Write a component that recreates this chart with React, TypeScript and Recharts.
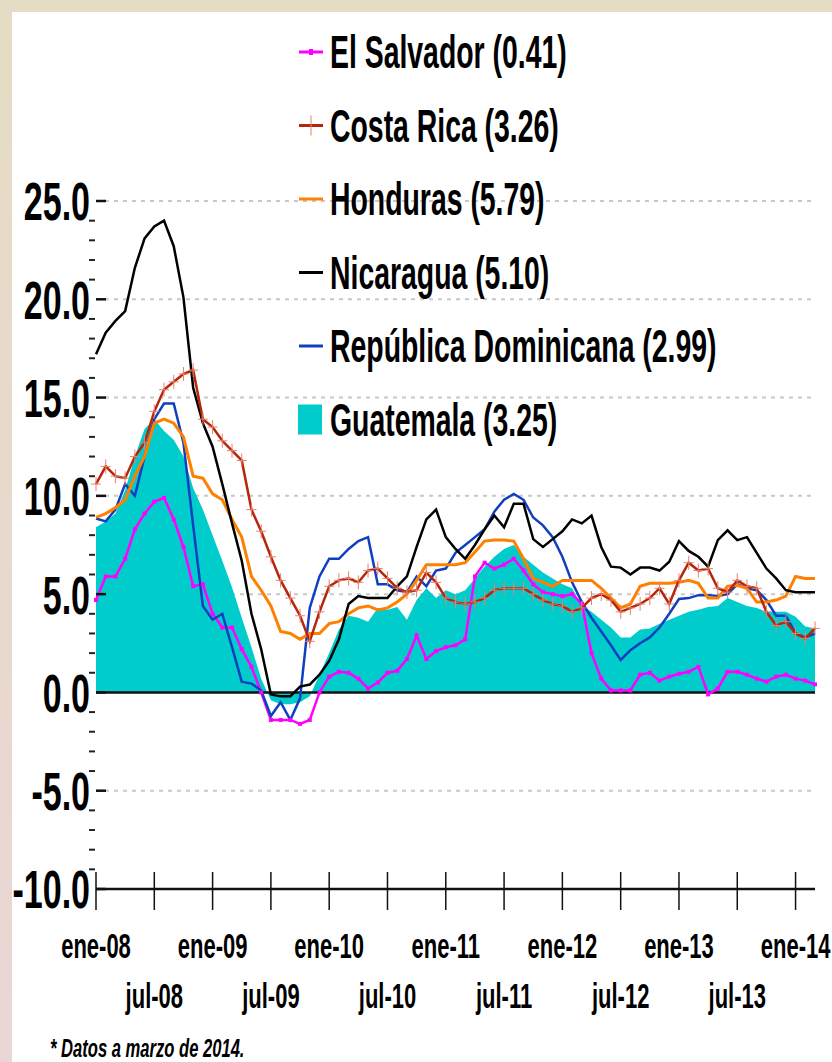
import {
  ComposedChart,
  Area,
  Line,
  XAxis,
  YAxis,
  CartesianGrid,
  ReferenceLine,
} from "recharts";

// monthly, ene-08 .. mar-14
const months = [
  "ene-08", "feb-08", "mar-08", "abr-08", "may-08", "jun-08", "jul-08", "ago-08", "sep-08", "oct-08", "nov-08", "dic-08",
  "ene-09", "feb-09", "mar-09", "abr-09", "may-09", "jun-09", "jul-09", "ago-09", "sep-09", "oct-09", "nov-09", "dic-09",
  "ene-10", "feb-10", "mar-10", "abr-10", "may-10", "jun-10", "jul-10", "ago-10", "sep-10", "oct-10", "nov-10", "dic-10",
  "ene-11", "feb-11", "mar-11", "abr-11", "may-11", "jun-11", "jul-11", "ago-11", "sep-11", "oct-11", "nov-11", "dic-11",
  "ene-12", "feb-12", "mar-12", "abr-12", "may-12", "jun-12", "jul-12", "ago-12", "sep-12", "oct-12", "nov-12", "dic-12",
  "ene-13", "feb-13", "mar-13", "abr-13", "may-13", "jun-13", "jul-13", "ago-13", "sep-13", "oct-13", "nov-13", "dic-13",
  "ene-14", "feb-14", "mar-14",
];

const elSalvador = [
  4.7, 5.9, 5.9, 6.8, 8.3, 9.1, 9.7, 9.9, 8.8, 7.4, 5.4, 5.5,
  4.0, 3.3, 3.3, 2.2, 1.3, 0.0, -1.4, -1.4, -1.4, -1.6, -1.4, 0.0,
  0.8, 1.05, 1.0, 0.7, 0.2, 0.5, 1.0, 1.1, 1.7, 2.9, 1.7, 2.1,
  2.3, 2.4, 2.7, 5.9, 6.6, 6.3, 6.5, 6.8, 6.2, 5.5, 5.1, 5.0,
  4.9, 5.0, 4.5, 2.0, 0.7, 0.1, 0.1, 0.1, 0.9, 1.0, 0.6, 0.8,
  0.95, 1.05, 1.3, -0.1, 0.2, 1.05, 1.05, 0.9, 0.7, 0.55, 0.8, 0.9,
  0.7, 0.6, 0.41,
];

const costaRica = [
  10.6, 11.5, 11.0, 10.9, 12.0, 12.7, 14.3, 15.4, 15.8, 16.2, 16.4, 13.9,
  13.5, 12.8, 12.3, 11.8, 9.3, 8.2, 6.9, 5.7, 4.8, 3.9, 2.6, 4.1,
  5.4, 5.7, 5.8, 5.6, 6.2, 6.3, 5.8, 5.3, 5.1, 5.2, 6.1, 5.6,
  4.8, 4.6, 4.5, 4.6, 4.8, 5.2, 5.3, 5.3, 5.3, 5.0, 4.7, 4.5,
  4.4, 4.1, 4.3, 4.8, 5.0, 4.7, 4.1, 4.3, 4.5, 4.8, 5.3, 4.5,
  5.7, 6.6, 6.2, 6.3, 5.3, 5.1, 5.7, 5.4, 5.3, 4.1, 3.4, 3.6,
  3.0, 2.75, 3.26,
];

const honduras = [
  8.9, 9.1, 9.4, 9.8, 11.0, 12.0, 13.7, 13.9, 13.7, 13.0, 11.0, 10.9,
  10.1, 9.8, 8.8, 7.9, 5.9, 5.2, 4.4, 3.1, 3.0, 2.7, 3.0, 3.0,
  3.5, 3.6, 4.0, 4.3, 4.4, 4.2, 4.3, 4.6, 5.0, 5.7, 6.5, 6.5,
  6.5, 6.5, 6.6, 7.15, 7.7, 7.75, 7.75, 7.7, 6.8, 5.8, 5.6, 5.4,
  5.7, 5.7, 5.7, 5.7, 5.3, 4.8, 4.3, 4.5, 5.4, 5.55, 5.55, 5.55,
  5.6, 5.7, 5.55, 4.8, 4.8, 5.4, 5.45, 5.3, 4.6, 4.6, 4.7, 4.9,
  5.9, 5.8, 5.79,
];

const nicaragua = [
  17.2, 18.3, 18.9, 19.4, 21.6, 23.1, 23.7, 24.0, 22.7, 20.1, 15.5, 13.7,
  12.5, 10.6, 8.6, 6.7, 4.0, 2.2, -0.1, -0.2, -0.2, 0.3, 0.4, 0.9,
  1.6, 2.7, 4.5, 4.9, 4.8, 4.8, 4.8, 5.4, 5.9, 7.4, 8.8, 9.3,
  7.9, 7.3, 6.8, 7.5, 8.3, 9.0, 8.4, 9.6, 9.6, 7.8, 7.4, 7.8,
  8.2, 8.8, 8.6, 9.0, 7.4, 6.4, 6.35, 6.0, 6.35, 6.35, 6.2, 6.65,
  7.7, 7.2, 6.9, 6.4, 7.75, 8.25, 7.75, 7.9, 7.1, 6.3, 5.8, 5.2,
  5.1, 5.1, 5.1,
];

const repDominicana = [
  8.85, 8.7, 9.3, 10.6, 10.0, 12.0, 13.9, 14.7, 14.7, 12.7, 8.5, 4.4,
  3.7, 4.0, 2.3, 0.55, 0.45, 0.1, -1.2, -0.5, -1.4, -0.3, 4.3, 5.9,
  6.8, 6.8, 7.3, 7.7, 7.9, 5.5, 5.5, 5.2, 5.1, 5.9, 5.4, 6.2,
  6.3, 7.1, 7.5, 7.9, 8.3, 9.2, 9.8, 10.1, 9.8, 8.9, 8.5, 7.9,
  6.9, 5.6, 4.6, 3.8, 3.1, 2.4, 1.65, 2.15, 2.5, 2.8, 3.3, 4.0,
  4.75, 4.8, 4.95, 4.95, 4.9, 5.0, 5.5, 5.3, 5.2, 4.7, 3.9, 3.9,
  3.0, 2.8, 2.99,
];

const guatemala = [
  8.4, 8.7, 9.1, 10.3, 12.0, 13.4, 13.9, 13.3, 12.85, 12.0, 10.4, 9.3,
  8.0, 6.7, 5.35, 3.8, 2.3, 0.7, -0.4, -0.6, -0.6, -0.5, -0.2, 0.9,
  2.0, 3.2, 3.9, 3.8, 3.6, 4.3, 4.2, 4.35, 3.7, 4.7, 5.3, 4.8,
  5.2, 5.0, 5.2, 5.8, 6.4, 6.9, 7.3, 7.5, 6.9, 6.5, 6.1, 5.8,
  5.5, 5.3, 4.4, 4.1, 3.7, 3.3, 2.8, 2.8, 3.2, 3.25, 3.5, 3.7,
  3.9, 4.1, 4.2, 4.35, 4.4, 4.8, 4.6, 4.4, 4.3, 4.1, 4.1, 4.1,
  3.85, 3.35, 3.25,
];

const legendItems = [
  { name: "El Salvador (0.41)", color: "#FF00FF", kind: "dot" },
  { name: "Costa Rica (3.26)", color: "#B5260A", kind: "plus" },
  { name: "Honduras (5.79)", color: "#FF8000", kind: "line" },
  { name: "Nicaragua (5.10)", color: "#000000", kind: "line" },
  { name: "República Dominicana (2.99)", color: "#1040C0", kind: "line" },
  { name: "Guatemala (3.25)", color: "#00CCCC", kind: "box" },
];

const data = months.map((m, i) => ({
  i,
  month: m,
  sv: elSalvador[i],
  cr: costaRica[i],
  hn: honduras[i],
  ni: nicaragua[i],
  rd: repDominicana[i],
  gt: guatemala[i],
}));

const xTicks = months
  .map((m, i) => (m.startsWith("ene") || m.startsWith("jul") ? i : -1))
  .filter((i) => i >= 0);
const yTicks = Array.from({ length: 36 }, (_, k) => k - 10);

const FONT = "'Liberation Sans', Arial, sans-serif";
const SY = 1.6; // the original is stretched vertically

function YTick(props: any) {
  const { x, y, payload } = props;
  const v = payload.value;
  if (v % 5 !== 0) {
    return <line x1={x - 7} x2={x - 1} y1={y} y2={y} stroke="#222" strokeWidth={2} />;
  }
  return (
    <g>
      <line x1={x} x2={x + 10} y1={y} y2={y} stroke="#111" strokeWidth={2.5} />
      <text
        transform={`translate(90,${y}) scale(1,${SY})`}
        y={0.358 * 34}
        textAnchor="end"
        fontFamily={FONT}
        fontWeight="bold"
        fontSize={34}
        fill="#000"
      >
        {v.toFixed(1)}
      </text>
    </g>
  );
}

function XTick(props: any) {
  const { x, y, payload } = props;
  const label = months[payload.value];
  const jan = label.startsWith("ene");
  const ty = y + (jan ? 56 : 106);
  return (
    <g>
      <line x1={x} x2={x} y1={y - 17} y2={y + 21} stroke="#111" strokeWidth={1.5} />
      <text
        transform={`translate(${x},${ty}) scale(1,${SY})`}
        y={0.358 * 22}
        textAnchor="middle"
        fontFamily={FONT}
        fontWeight="bold"
        fontSize={22}
        fill="#000"
      >
        {label}
      </text>
    </g>
  );
}

const crossDot = (p: any) => (
  <path
    key={`cr-${p.index}`}
    d={`M${p.cx},${p.cy - 7}V${p.cy + 7}M${p.cx - 5},${p.cy}H${p.cx + 5}`}
    stroke="#E8806E"
    strokeWidth={1}
    fill="none"
  />
);

const squareDot = (p: any) => (
  <rect key={`sv-${p.index}`} x={p.cx - 2} y={p.cy - 2} width={4} height={4} fill="#FF00FF" />
);

function LegendOverlay() {
  return (
    <svg
      width={832}
      height={1062}
      style={{ position: "absolute", left: 0, top: 0, pointerEvents: "none" }}
    >
      {legendItems.map((it, k) => {
        const cy = 52 + k * 73.5;
        return (
          <g key={it.name}>
            {it.kind === "box" ? (
              <rect x={298} y={cy - 15} width={24} height={30} fill={it.color} />
            ) : (
              <line x1={299} x2={323} y1={cy} y2={cy} stroke={it.color} strokeWidth={3} />
            )}
            {it.kind === "plus" && (
              <line x1={311} x2={311} y1={cy - 10} y2={cy + 10} stroke="#E8806E" strokeWidth={1} />
            )}
            {it.kind === "dot" && (
              <rect x={309} y={cy - 3} width={4} height={6} fill={it.color} />
            )}
            <text
              transform={`translate(330,${cy}) scale(1,${SY})`}
              y={0.358 * 28.4}
              fontFamily={FONT}
              fontWeight="bold"
              fontSize={28.4}
              fill="#000"
            >
              {it.name}
            </text>
          </g>
        );
      })}
      <text
        transform={`translate(50,1047) scale(1,${SY})`}
        y={0.358 * 16.6}
        fontFamily={FONT}
        fontWeight="bold"
        fontStyle="italic"
        fontSize={16.6}
        fill="#000"
      >
        * Datos a marzo de 2014.
      </text>
    </svg>
  );
}

export default function App() {
  return (
    <div
      style={{
        position: "absolute",
        left: 0,
        top: 0,
        width: 832,
        height: 1062,
        background: "linear-gradient(to bottom, #E4DCC4, #EAD6D6)",
        overflow: "hidden",
      }}
    >
      <div
        style={{
          position: "absolute",
          left: 12,
          top: 12,
          right: 0,
          bottom: 0,
          background: "#FFFFFF",
        }}
      />
      <div style={{ position: "absolute", left: 0, top: 0 }}>
        <ComposedChart
          width={832}
          height={1062}
          data={data}
          margin={{ top: 201, right: 17, bottom: 0, left: 0 }}
        >
          <CartesianGrid
            vertical={false}
            horizontalValues={[-5, 5, 10, 15, 20, 25]}
            stroke="#C8C8C8"
            strokeWidth={2}
            strokeDasharray="4 5"
          />
          <XAxis
            dataKey="i"
            type="number"
            domain={[0, 74]}
            ticks={xTicks}
            interval={0}
            height={173}
            tickSize={0}
            tickMargin={0}
            tickLine={false}
            axisLine={{ stroke: "#111", strokeWidth: 2.5 }}
            tick={<XTick />}
          />
          <YAxis
            type="number"
            domain={[-10, 25]}
            ticks={yTicks}
            interval={0}
            width={96}
            tickSize={0}
            tickMargin={0}
            tickLine={false}
            axisLine={false}
            tick={<YTick />}
          />
          <Area
            dataKey="gt"
            type="linear"
            fill="#00CCCC"
            fillOpacity={1}
            stroke="none"
            baseValue={0}
            isAnimationActive={false}
          />
          <ReferenceLine y={0} stroke="#111" strokeWidth={2.5} />
          <Line dataKey="sv" type="linear" stroke="#FF00FF" strokeWidth={2.5} dot={squareDot} isAnimationActive={false} />
          <Line dataKey="rd" type="linear" stroke="#1040C0" strokeWidth={2.5} dot={false} isAnimationActive={false} />
          <Line dataKey="hn" type="linear" stroke="#FF8000" strokeWidth={3} dot={false} isAnimationActive={false} />
          <Line dataKey="ni" type="linear" stroke="#000000" strokeWidth={2.5} dot={false} isAnimationActive={false} />
          <Line dataKey="cr" type="linear" stroke="#B5260A" strokeWidth={2.5} dot={crossDot} isAnimationActive={false} />
        </ComposedChart>
      </div>
      <LegendOverlay />
    </div>
  );
}
